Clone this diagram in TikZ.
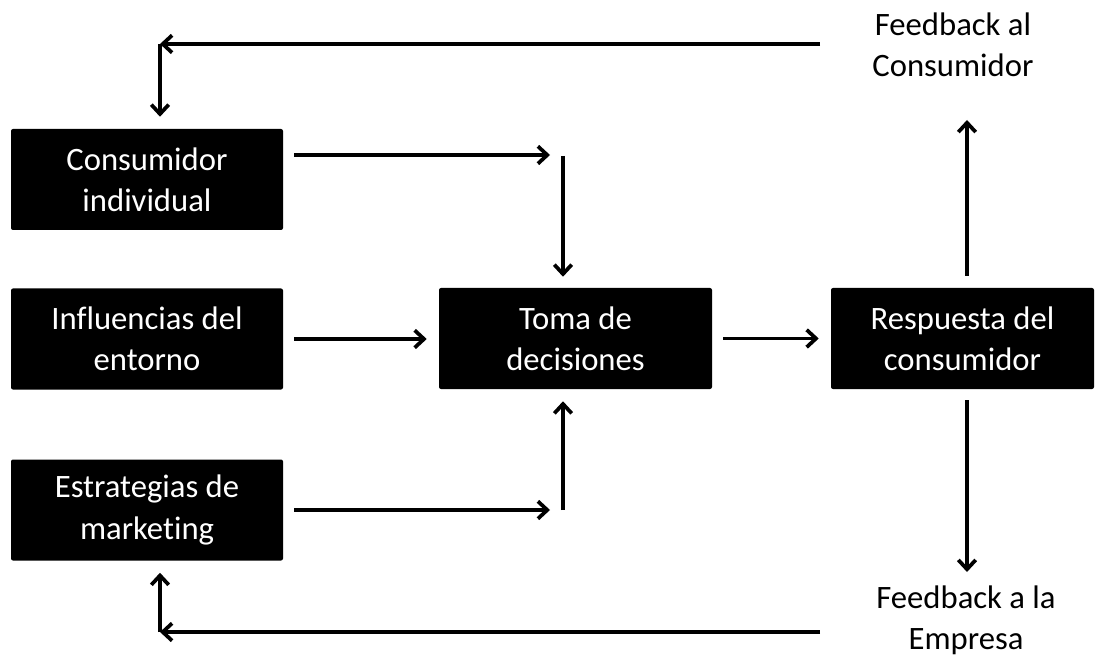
\documentclass[tikz,border=0pt]{standalone}
\usepackage{fontspec}
\setmainfont{Carlito}[Ligatures=NoCommon]
\usetikzlibrary{arrows.meta}
\begin{document}
\begin{tikzpicture}[x=0.75pt,y=-0.75pt,
  box/.style={fill=black, text=white, rounded corners=1.5pt,
    minimum width=204pt, minimum height=75.75pt, align=center,
    font=\fontsize{24.5}{31}\selectfont, inner sep=0pt},
  lbl/.style={align=center, font=\fontsize{24.5}{31}\selectfont, inner sep=0pt},
  arr/.style={line width=2.8pt, -{Straight Barb[length=7pt,width=13pt]}}
]
\useasboundingbox (0,0) rectangle (1097,656);

% blocks
\node[box] (cons) at (147,179.5) {Consumidor\\individual};
\node[box] (infl) at (147,339) {Influencias del\\entorno};
\node[box] (estr) at (147,510) {Estrategias de\\marketing};
\node[box, minimum width=204.75pt] (toma) at (575.5,338.5) {Toma de\\decisiones};
\node[box, minimum width=197.25pt] (resp) at (962.5,338.5) {Respuesta del\\consumidor};

% feedback labels
\node[lbl] (fbc) at (953,45) {Feedback al\\Consumidor};
\node[lbl] (fbe) at (966,620) {Feedback a la\\Empresa};

% routing points
\coordinate (tr) at (820,44);
\coordinate (tl) at (160,44);
\coordinate (br) at (820,632);
\coordinate (bl) at (160,632);
\coordinate (ja) at (563,155);
\coordinate (jb) at (563,510);
\coordinate (up) at (967,120);
\coordinate (dn) at (967,572);

% feedback to the consumer
\draw[arr] (tr) -- (tl);
\draw[arr, shorten >=9pt] (tl) -- (tl |- cons.north);

% inputs to the decision
\draw[arr, shorten <=8.25pt, shorten >=9.75pt] (cons.east |- ja) -- (ja);
\draw[arr, shorten >=8.25pt] ([yshift=-0.75pt]ja) -- (ja |- toma.north);
\draw[arr, shorten <=8.25pt, shorten >=9pt] (infl.east) -- (infl.east -| toma.west);
\draw[arr, shorten <=8.25pt, shorten >=9.75pt] (estr.east |- jb) -- (jb);
\draw[arr, shorten >=9pt] (jb) -- (jb |- toma.south);

% decision to response
\draw[arr, shorten <=8.25pt, shorten >=9pt] (toma.east) -- (toma.east -| resp.west);

% response outputs
\draw[arr, shorten <=9pt] (resp.north -| up) -- (up);
\draw[arr, shorten <=8.25pt] (resp.south -| dn) -- (dn);

% feedback to the company
\draw[arr] (br) -- (bl);
\draw[arr, shorten >=9pt] (bl) -- (bl |- estr.south);
\end{tikzpicture}
\end{document}
